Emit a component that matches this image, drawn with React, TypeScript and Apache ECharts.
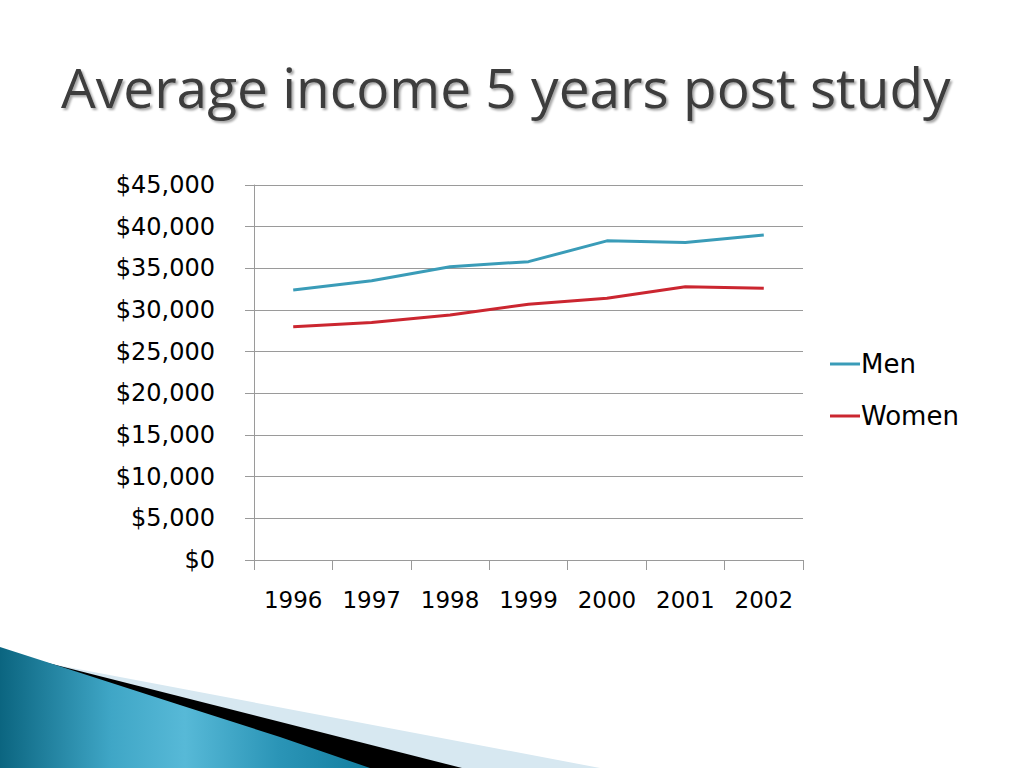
import React, { useEffect, useRef } from "react";
import * as echarts from "echarts";

const years = ["1996", "1997", "1998", "1999", "2000", "2001", "2002"];
const menIncome = [32400, 33500, 35200, 35800, 38300, 38100, 39000];
const womenIncome = [28000, 28500, 29400, 30700, 31400, 32800, 32600];
const seriesNames = ["Men", "Women"];
const titleText = "Average income 5 years post study";

const fmt = (v: number) => "$" + v.toLocaleString("en-US");

export default function App() {
  const ref = useRef<HTMLDivElement>(null);
  useEffect(() => {
    if (!ref.current) return;
    const chart = echarts.init(ref.current, null, { renderer: "svg" });
    const tealGrad = new echarts.graphic.LinearGradient(0, 0, 1, 0, [
      { offset: 0, color: "#0B6580" },
      { offset: 0.3, color: "#3FA6C6" },
      { offset: 0.5, color: "#57B9D7" },
      { offset: 0.75, color: "#2B95B7" },
      { offset: 1, color: "#137E9F" },
    ]);
    chart.setOption({
      animation: false,
      backgroundColor: "#ffffff",
      grid: { left: 254, right: 221, top: 185, bottom: 208, containLabel: false },
      legend: {
        orient: "vertical",
        left: 825,
        top: 345,
        icon: "rect",
        itemWidth: 30,
        itemHeight: 3,
        itemGap: 24,
        data: seriesNames,
        textStyle: {
          fontFamily: "DejaVu Sans",
          fontSize: 26,
          color: "#000000",
          lineHeight: 28,
          padding: [0, 0, 0, -4],
        },
      },
      xAxis: {
        type: "category",
        data: years,
        boundaryGap: true,
        axisLine: { show: true, lineStyle: { color: "#9a9a9a", width: 1 } },
        axisTick: { show: true, length: 10, lineStyle: { color: "#9a9a9a" } },
        axisLabel: {
          fontFamily: "DejaVu Sans",
          fontSize: 23,
          color: "#000000",
          margin: 28,
        },
      },
      yAxis: {
        type: "value",
        min: 0,
        max: 45000,
        interval: 5000,
        axisLine: { show: true, lineStyle: { color: "#9a9a9a", width: 1 } },
        axisTick: { show: true, length: 9, lineStyle: { color: "#9a9a9a" } },
        splitLine: { show: true, lineStyle: { color: "#9a9a9a", width: 1 } },
        axisLabel: {
          fontFamily: "DejaVu Sans",
          fontSize: 24,
          color: "#000000",
          margin: 39,
          formatter: (v: number) => fmt(v),
        },
      },
      series: [
        {
          name: seriesNames[0],
          type: "line",
          data: menIncome,
          symbol: "none",
          lineStyle: { color: "#3A9CB8", width: 3 },
          itemStyle: { color: "#3A9CB8" },
        },
        {
          name: seriesNames[1],
          type: "line",
          data: womenIncome,
          symbol: "none",
          lineStyle: { color: "#CB2630", width: 3 },
          itemStyle: { color: "#CB2630" },
        },
      ],
      graphic: [
        {
          type: "text",
          left: 61,
          top: 59,
          style: {
            text: titleText,
            fontFamily: "Open Sans",
            fontSize: 55,
            fill: "#3c3c3c",
            textShadowColor: "rgba(0,0,0,0.35)",
            textShadowOffsetX: 2,
            textShadowOffsetY: 2,
            textShadowBlur: 2,
          },
        },
        {
          type: "polygon",
          shape: { points: [[46, 663], [600, 768], [0, 768]] },
          style: { fill: "#D7E8F1" },
        },
        {
          type: "polygon",
          shape: { points: [[44, 662], [462, 768], [0, 768]] },
          style: { fill: "#000000" },
        },
        {
          type: "polygon",
          shape: {
            points: [[0, 647], [90, 676], [180, 705], [280, 737], [370, 768], [0, 768]],
          },
          style: { fill: tealGrad },
        },
      ],
    });
    return () => chart.dispose();
  }, []);
  return (
    <div
      ref={ref}
      style={{ position: "fixed", left: 0, top: 0, width: 1024, height: 768 }}
    />
  );
}
